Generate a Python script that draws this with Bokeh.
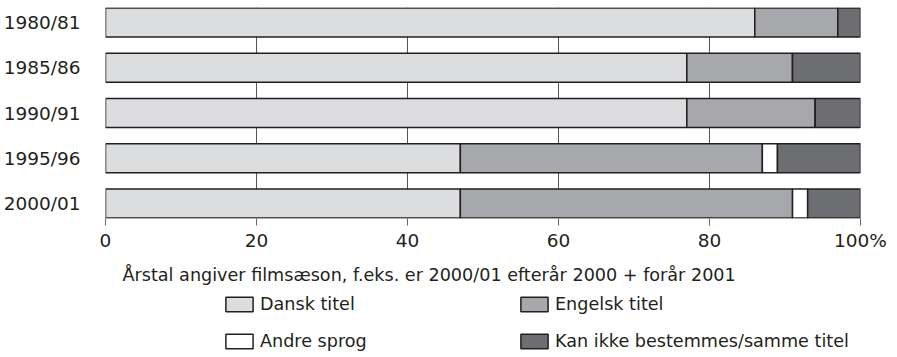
from bokeh.plotting import figure
from bokeh.layouts import column
from bokeh.models import (ColumnDataSource, FactorRange, FixedTicker, Legend,
                          LegendItem, Label)
from bokeh.embed import file_html
from bokeh.resources import INLINE

# ---- data ----
seasons = ["1980/81", "1985/86", "1990/91", "1995/96", "2000/01"]
dansk = [86, 77, 77, 47, 47]
engelsk = [11, 14, 17, 40, 44]
andre = [0, 0, 0, 2, 2]
kan_ikke = [3, 9, 6, 11, 7]
series_names = ["Dansk titel", "Engelsk titel", "Andre sprog",
                "Kan ikke bestemmes/samme titel"]
x_ticks = [0, 20, 40, 60, 80, 100]
caption = "Årstal angiver filmsæson, f.eks. er 2000/01 efterår 2000 + forår 2001"

FONT = "DejaVu Sans"
TXT = "#231f20"
colors = ["#dcdddf", "#a7a8ab", "#ffffff", "#6d6e71"]
keys = ["dansk", "engelsk", "andre", "kan"]

source = ColumnDataSource(dict(season=seasons, dansk=dansk, engelsk=engelsk,
                               andre=andre, kan=kan_ikke))

LEFT, RIGHT = 104, 38

# ---------------- main chart ----------------
p = figure(frame_width=755, frame_height=211,
           y_range=FactorRange(factors=list(reversed(seasons)),
                               range_padding=-0.171,
                               range_padding_units="absolute"),
           x_range=(0, 100),
           output_backend="svg", toolbar_location=None,
           min_border_left=LEFT, min_border_right=RIGHT, min_border_top=7,
           min_border_bottom=40)
p.outline_line_color = None

p.hbar_stack(keys, y="season", height=0.64, color=colors,
             line_color=TXT, line_width=1.5, source=source)

p.xaxis.ticker = FixedTicker(ticks=x_ticks)
p.xaxis.major_label_overrides = {100: "100%"}
p.xaxis.axis_line_color = None
p.xaxis.major_tick_in = 0
p.xaxis.major_tick_out = 7
p.xaxis.major_tick_line_color = "#6b6b6b"
p.xaxis.minor_tick_line_color = None
p.xaxis.major_label_text_font = FONT
p.xaxis.major_label_text_font_size = "18.5px"
p.xaxis.major_label_text_color = TXT
p.xaxis.major_label_standoff = 4

p.yaxis.axis_line_color = None
p.yaxis.major_tick_line_color = None
p.yaxis.minor_tick_line_color = None
p.yaxis.major_label_text_font = FONT
p.yaxis.major_label_text_font_size = "18.5px"
p.yaxis.major_label_text_color = TXT
p.yaxis.major_label_standoff = 19

p.xgrid.ticker = FixedTicker(ticks=x_ticks)
p.xgrid.grid_line_color = "#555555"
p.xgrid.grid_line_width = 1
p.ygrid.grid_line_color = None

# ---------------- caption + legend strip ----------------
strip_h = 357 - (7 + 211 + 40)
q = figure(frame_width=755, frame_height=strip_h,
           y_range=FactorRange(factors=list(reversed(seasons))),
           x_range=(0, 100),
           output_backend="svg", toolbar_location=None,
           min_border_left=LEFT, min_border_right=RIGHT, min_border_top=0,
           min_border_bottom=0)
q.axis.visible = False
q.grid.visible = False
q.outline_line_color = None

# same stacked series, hidden: only used as legend keys
keyed = q.hbar_stack(keys, y="season", height=0.64, color=colors,
                     line_color=TXT, line_width=1.5, source=source)
for r in keyed:
    r.visible = False

q.add_layout(Label(x=121 - LEFT, y=83, x_units="screen", y_units="screen",
                   text=caption, text_font=FONT, text_font_size="17.6px",
                   text_color=TXT, text_baseline="alphabetic"))

def make_legend(idx, loc):
    return Legend(items=[LegendItem(label=series_names[i], renderers=[keyed[i]])
                         for i in idx],
                  location=loc, orientation="vertical",
                  glyph_width=34, glyph_height=18, label_standoff=4,
                  spacing=17, padding=0, margin=0,
                  border_line_color=None, background_fill_alpha=0,
                  inactive_fill_alpha=0,
                  label_text_font=FONT, label_text_font_size="17.6px",
                  label_text_color=TXT)

q.add_layout(make_legend([0, 2], (221 - LEFT, 6)))
q.add_layout(make_legend([1, 3], (516 - LEFT, 6)))

layout = column(p, q, spacing=0)
open("out.html", "w").write(file_html(layout, INLINE))
